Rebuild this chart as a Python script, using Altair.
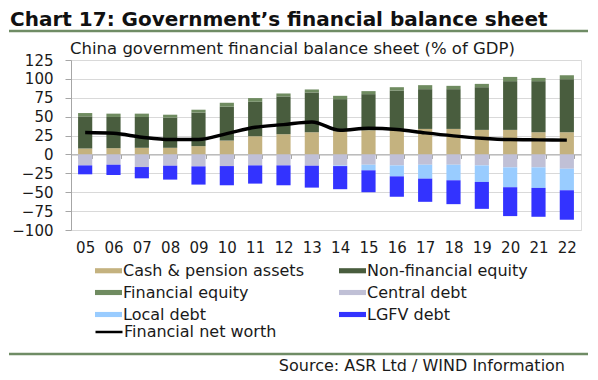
import altair as alt
import pandas as pd

years = ["05", "06", "07", "08", "09", "10", "11", "12", "13",
         "14", "15", "16", "17", "18", "19", "20", "21", "22"]
cash = [7.9, 8.3, 8.8, 8.8, 11.0, 18.4, 24.1, 26.8, 29.4,
        30.7, 32.0, 32.0, 33.8, 33.8, 32.5, 32.5, 29.4, 29.4]
nonfin = [42.5, 41.3, 40.8, 39.9, 44.3, 44.8, 45.6, 50.0, 52.6,
          42.5, 47.8, 52.6, 52.6, 52.6, 56.5, 64.5, 67.6, 70.2]
fineq = [4.4, 4.4, 4.4, 3.9, 3.9, 5.2, 4.9, 3.9, 4.0,
         4.4, 4.0, 4.4, 5.3, 4.4, 4.4, 5.6, 4.3, 5.2]
central = [-14.5, -13.6, -16.7, -14.9, -15.8, -15.4, -14.5, -14.5, -14.9,
           -14.5, -13.6, -14.5, -13.6, -13.6, -14.5, -17.1, -17.1, -18.9]
local = [0, 0, 0, 0, 0, 0, 0, 0, 0,
         -0.9, -7.4, -14.5, -18.4, -20.6, -21.9, -26.3, -27.2, -28.5]
lgfv = [-11.8, -13.6, -14.9, -18.4, -24.1, -25.4, -24.1, -26.3, -29.0,
        -30.6, -29.0, -27.0, -30.7, -31.6, -35.6, -38.2, -38.2, -39.0]
networth = [29.0, 28.0, 22.8, 19.7, 19.7, 27.6, 36.0, 39.5, 43.0,
            32.0, 34.6, 33.0, 28.5, 24.6, 21.5, 19.7, 19.3, 18.9]
y_ticks = [-100, -75, -50, -25, 0, 25, 50, 75, 100, 125]

series_names = ["Cash & pension assets", "Non-financial equity", "Financial equity",
                "Central debt", "Local debt", "LGFV debt"]
series_colors = ["#C4B27F", "#495D3E", "#6F8B60", "#C0C0D6", "#99CCFF", "#3333FF"]
series_values = [cash, nonfin, fineq, central, local, lgfv]
# legend fills columns first: left column then right column
legend_order = [0, 2, 4, 1, 3, 5]

title_text = "Chart 17: Government\u2019s financial balance sheet"
subtitle_text = "China government financial balance sheet (% of GDP)"
source_text = "Source: ASR Ltd / WIND Information"
line_name = "Financial net worth"

rows = []
for k, (name, vals) in enumerate(zip(series_names, series_values)):
    for yr, v in zip(years, vals):
        rows.append({"year": yr, "series": name, "value": v, "idx": k})
bars_df = pd.DataFrame(rows)
line_df = pd.DataFrame({"year": years, "value": networth, "series": [line_name] * len(years)})

dom = [series_names[i] for i in legend_order]
rng = [series_colors[i] for i in legend_order]

W, H = 510, 170
FONT = "DejaVu Sans"
zero_offset = -(H * 100 / 225)

x_axis = alt.Axis(title=None, orient="bottom", offset=zero_offset,
                  labelAngle=0, labelFontSize=15, labelColor="#1a1a1a",
                  labelPadding=82, tickSize=4, tickBand="extent",
                  tickColor="#A6A6A6", domainColor="#A6A6A6",
                  grid=False, labelFont=FONT)
y_axis = alt.Axis(title=None, values=y_ticks, tickCount=10,
                  labelFontSize=15, labelColor="#1a1a1a", labelFont=FONT,
                  labelOverlap=False,
                  labelPadding=12, tickSize=6, tickColor="#A6A6A6",
                  domainColor="#A6A6A6", gridColor="#D9D9D9")
y_scale = alt.Scale(domain=[-100, 125], nice=False)
x_scale = alt.Scale(paddingInner=0.5, paddingOuter=0.25)

bars = alt.Chart(bars_df).mark_bar().encode(
    x=alt.X("year:N", sort=years, scale=x_scale, axis=x_axis),
    y=alt.Y("value:Q", stack="zero", scale=y_scale, axis=y_axis),
    color=alt.Color("series:N",
                    scale=alt.Scale(domain=dom, range=rng),
                    legend=alt.Legend(title=None, orient="none", legendX=24, legendY=197,
                                      columns=2, columnPadding=35, rowPadding=-2.5,
                                      symbolType="M-1,-0.19H1V0.19H-1Z", symbolSize=729,
                                      symbolStrokeWidth=0, labelOffset=1, labelLimit=400,
                                      labelFontSize=16, labelFont=FONT, labelColor="#1a1a1a",
                                      padding=0)),
    order=alt.Order("idx:Q"),
)

line = alt.Chart(line_df).mark_line(strokeWidth=3.4, interpolate="monotone").encode(
    x=alt.X("year:N", sort=years, scale=x_scale, axis=x_axis),
    y=alt.Y("value:Q", scale=y_scale, axis=y_axis),
    color=alt.Color("series:N",
                    scale=alt.Scale(domain=[line_name], range=["#000000"]),
                    legend=alt.Legend(title=None, orient="none", legendX=23, legendY=257,
                                      symbolType="stroke", symbolSize=729,
                                      symbolStrokeWidth=2.5, labelOffset=0, labelLimit=400,
                                      labelFontSize=16, labelFont=FONT, labelColor="#1a1a1a",
                                      padding=0)),
)

one = pd.DataFrame({"t": [title_text], "s": [subtitle_text], "src": [source_text]})

title = alt.Chart(one).mark_text(align="left", baseline="alphabetic", fontSize=20,
                                 fontWeight="bold", font=FONT, color="#111111").encode(
    x=alt.value(-61), y=alt.value(-34), text="t:N")
subtitle = alt.Chart(one).mark_text(align="left", baseline="middle", fontSize=16.5,
                                    font=FONT, color="#1a1a1a").encode(
    x=alt.value(-1), y=alt.value(-11), text="s:N")
source = alt.Chart(one).mark_text(align="right", baseline="middle", fontSize=16,
                                  font=FONT, color="#1a1a1a").encode(
    x=alt.value(494), y=alt.value(306), text="src:N")
rule_top = alt.Chart(one).mark_rule(color="#6F8C65", strokeWidth=2.5).encode(
    x=alt.value(-62), x2=alt.value(517), y=alt.value(-29))
rule_bot = alt.Chart(one).mark_rule(color="#6F8C65", strokeWidth=2.5).encode(
    x=alt.value(-62), x2=alt.value(517), y=alt.value(294))

chart = alt.layer(bars, line, title, subtitle, source, rule_top, rule_bot).resolve_scale(
    color="independent"
).properties(
    width=W, height=H,
    autosize=alt.AutoSizeParams(type="none"),
    padding={"left": 63, "top": 52, "right": 9, "bottom": 150},
).configure_view(stroke="transparent").configure(font=FONT).configure_axisY(labelOverlap=False)

chart.save("out.html", embed_options={"renderer": "svg", "actions": False})
